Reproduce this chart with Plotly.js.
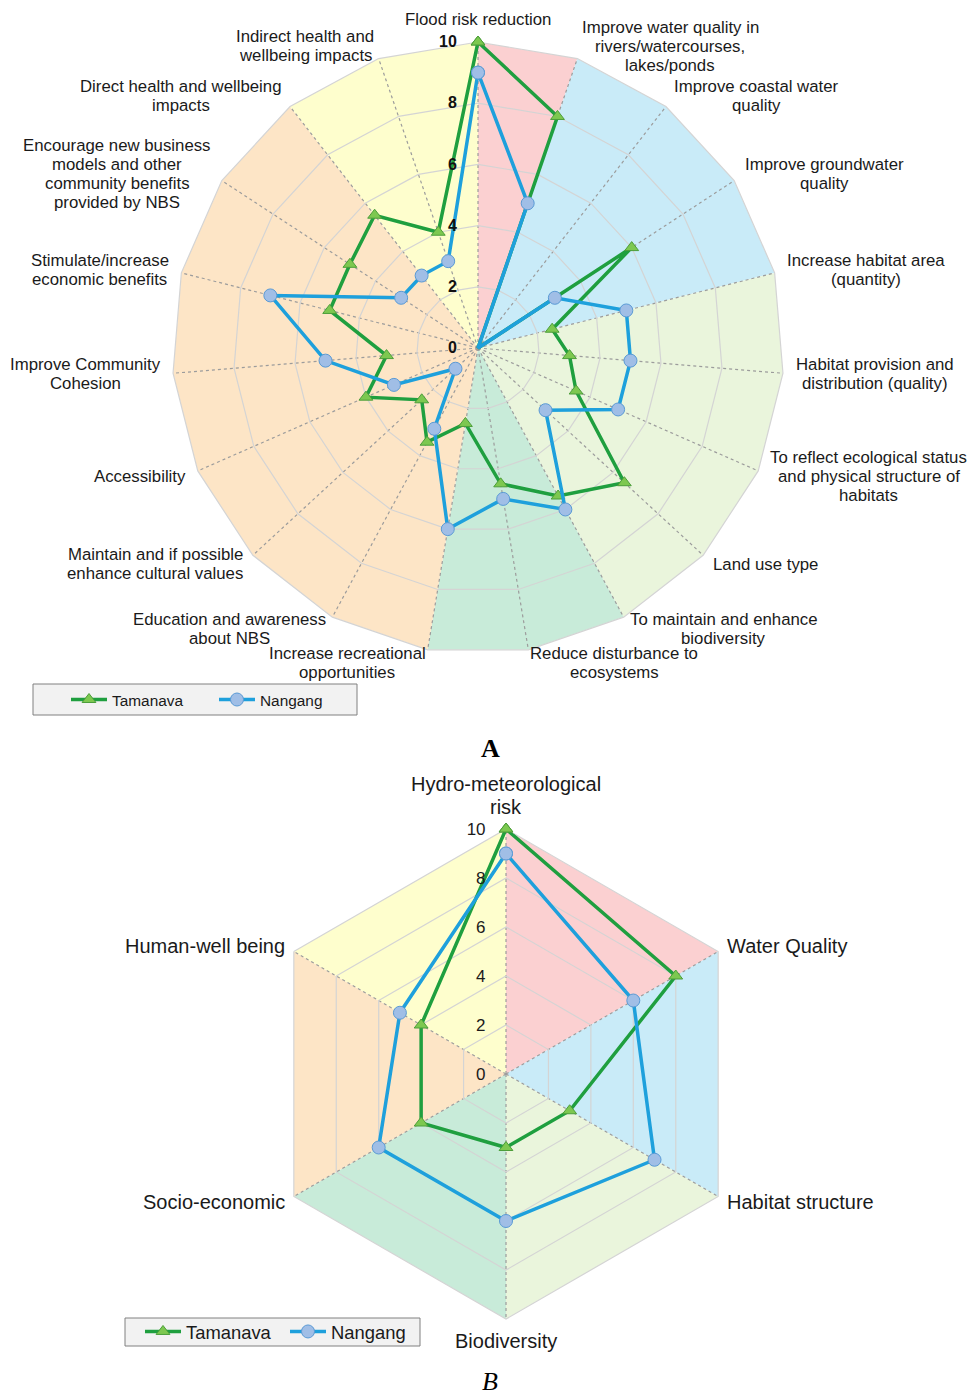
<!DOCTYPE html>
<html>
<head>
<meta charset="utf-8">
<script src="https://cdn.plot.ly/plotly-3.0.1.min.js"></script>
<style>html,body{margin:0;padding:0;background:#fff;}#chart{width:973px;height:1396px;}</style>
</head>
<body>
<div id="chart"></div>
<script>
// ---------------- DATA ----------------
const categoriesA = [
  "Flood risk reduction",
  "Improve water quality in<br>rivers/watercourses,<br>lakes/ponds",
  "Improve coastal water<br>quality",
  "Improve groundwater<br>quality",
  "Increase habitat area<br>(quantity)",
  "Habitat provision and<br>distribution (quality)",
  "To reflect ecological status<br>and physical structure of<br>habitats",
  "Land use type",
  "To maintain and enhance<br>biodiversity",
  "Reduce disturbance to<br>ecosystems",
  "Increase recreational<br>opportunities",
  "Education and awareness<br>about NBS",
  "Maintain and if possible<br>enhance cultural values",
  "Accessibility",
  "Improve Community<br>Cohesion",
  "Stimulate/increase<br>economic benefits",
  "Encourage new business<br>models and other<br>community benefits<br>provided by NBS",
  "Direct health and wellbeing<br>impacts",
  "Indirect health and<br>wellbeing impacts"
];
const tamanavaA = [10, 8, 0, 6, 2.5, 3, 3.5, 6.5, 5.5, 4.5, 2.5, 3.5, 2.5, 4, 3, 5, 5, 5.5, 4];
const nangangA  = [9, 5, 0, 3, 5, 5, 5, 3, 6, 5, 6, 3, 1, 3, 5, 7, 3, 3, 3];
// theme group of the sector that starts at each category (clockwise)
const sectorGroupA = ["flood", "water", "water", "water", "habitat", "habitat", "habitat", "habitat",
  "biodiv", "biodiv", "social", "social", "social", "social", "social", "social", "social", "health", "health"];

const categoriesB = ["Hydro-meteorological<br>risk", "Water Quality", "Habitat structure",
  "Biodiversity", "Socio-economic", "Human-well being"];
const tamanavaB = [10, 8, 3, 3, 4, 4];
const nangangB  = [9, 6, 7, 6, 6, 5];
const sectorGroupB = ["flood", "water", "habitat", "biodiv", "social", "health"];

const radialTicks = [0, 2, 4, 6, 8, 10];
const seriesNames = ["Tamanava", "Nangang"];

// ---------------- STYLE ----------------
const RMAX = 10;
const W = 973, H = 1396;
const groupColors = {
  flood: "#fbd0d1", water: "#c9ebf8", habitat: "#eaf5dc",
  biodiv: "#c8ebd9", social: "#fde5c6", health: "#fefecd"
};
const FONT = "Liberation Sans, Arial, sans-serif";
const TEXT = "#1a1a1a";
const green = {line: "#1f9f3f", fill: "#7dc850", edge: "#4c9e3a"};
const blue = {line: "#1ea0dc", fill: "#a0bee6", edge: "#5a9ad5"};
const geomA = {cx: 478, cy: 348, R: 306};
const geomB = {cx: 506, cy: 1074, R: 245};
const labelStyleA = {size: 16.8, lineH: 19, off: 13};
const labelStyleB = {size: 20, lineH: 23, off: 10.5};

function closeLoop(a) { return a.concat([a[0]]); }

function sectorTraces(cats, groups, subplot) {
  const n = cats.length, out = [];
  let s = 0;
  while (s < n) {
    let e = s;
    while (e + 1 < n && groups[e + 1] === groups[s]) e++;
    const theta = [cats[s]], r = [0];
    for (let k = s; k <= e + 1; k++) { theta.push(cats[k % n]); r.push(RMAX); }
    theta.push(cats[s]); r.push(0);
    out.push({
      type: "scatterpolar", subplot: subplot, mode: "lines", theta: theta, r: r,
      fill: "toself", fillcolor: groupColors[groups[s]], line: {width: 0, color: groupColors[groups[s]]},
      hoverinfo: "skip", showlegend: false
    });
    s = e + 1;
  }
  return out;
}

// invisible anchor so that the grid-only subplot is drawn (grid sits above the coloured sectors)
function gridAnchor(cats, subplot) {
  return {type: "scatterpolar", subplot: subplot, mode: "markers", theta: [cats[0]], r: [0],
    marker: {size: 1, opacity: 0}, hoverinfo: "skip", showlegend: false};
}

function seriesTrace(cats, vals, name, sty, sym, msize, lw, subplot, legend) {
  return {
    type: "scatterpolar", subplot: subplot, legend: legend, name: name,
    mode: "lines+markers", theta: closeLoop(cats), r: closeLoop(vals),
    line: {color: sty.line, width: lw},
    marker: {symbol: sym, size: msize, color: sty.fill, line: {color: sty.edge, width: 1}},
    hoverinfo: "skip"
  };
}

const traces = []
  .concat(sectorTraces(categoriesA, sectorGroupA, "polar"))
  .concat([gridAnchor(categoriesA, "polar2")])
  .concat(sectorTraces(categoriesB, sectorGroupB, "polar4"))
  .concat([gridAnchor(categoriesB, "polar5")])
  .concat([
    seriesTrace(categoriesA, tamanavaA, seriesNames[0], green, "triangle-up", 12, 3.5, "polar3", "legend"),
    seriesTrace(categoriesA, nangangA, seriesNames[1], blue, "circle", 13, 3.5, "polar3", "legend"),
    seriesTrace(categoriesB, tamanavaB, seriesNames[0], green, "triangle-up", 12, 3.5, "polar6", "legend2"),
    seriesTrace(categoriesB, nangangB, seriesNames[1], blue, "circle", 13, 3.5, "polar6", "legend2")
  ]);

function domainFor(g) {
  return {x: [(g.cx - g.R) / W, (g.cx + g.R) / W], y: [1 - (g.cy + g.R) / H, 1 - (g.cy - g.R) / H]};
}

// category labels placed outside each polygon vertex, lines centred (as in the original)
const measureCtx = document.createElement("canvas").getContext("2d");
function categoryLabels(cats, g, sty) {
  const n = cats.length, out = [];
  measureCtx.font = sty.size + "px 'Liberation Sans'";
  cats.forEach((c, i) => {
    const a = (90 - i * 360 / n) * Math.PI / 180;
    const cs = Math.cos(a), sn = Math.sin(a);
    const px = g.cx + (g.R + sty.off) * cs, py = g.cy - (g.R + sty.off) * sn;
    const lines = c.split("<br>");
    const bw = Math.max.apply(null, lines.map(l => measureCtx.measureText(l).width));
    const bh = lines.length * sty.lineH;
    let left, midY;
    if (Math.abs(cs) < 0.05) {
      left = px - bw / 2;
      midY = sn > 0 ? py - bh / 2 : py + bh / 2;
    } else {
      left = cs > 0 ? px : px - bw;
      midY = py;
    }
    lines.forEach((l, j) => {
      const y = midY + (j - (lines.length - 1) / 2) * sty.lineH;
      out.push({text: l, xref: "paper", yref: "paper", x: (left + bw / 2) / W, y: 1 - y / H,
        xanchor: "center", yanchor: "middle", showarrow: false, borderpad: 0,
        font: {family: FONT, size: sty.size, color: TEXT}});
    });
  });
  return out;
}

function catAxis(cats) {
  return {type: "category", categoryorder: "array", categoryarray: cats,
    direction: "clockwise", rotation: 90, showgrid: false, showline: false,
    showticklabels: false, ticks: ""};
}
function plainPolar(cats, dom) {
  return {domain: dom, bgcolor: "rgba(0,0,0,0)", gridshape: "linear",
    angularaxis: catAxis(cats),
    radialaxis: {range: [0, RMAX], visible: false, showgrid: false}};
}
// data subplot: carries the radial tick labels so they sit on top of the lines
function dataPolar(cats, dom, tickFont, tlen) {
  return {domain: dom, bgcolor: "rgba(0,0,0,0)", gridshape: "linear",
    angularaxis: catAxis(cats),
    radialaxis: {range: [0, RMAX], tickvals: radialTicks, angle: 90, side: "counterclockwise",
      tickangle: 90, showline: false, showgrid: false, ticks: "outside", ticklen: tlen,
      tickcolor: "rgba(0,0,0,0)", tickfont: tickFont}};
}
function gridPolar(cats, dom) {
  return {
    domain: dom, bgcolor: "rgba(0,0,0,0)", gridshape: "linear",
    angularaxis: {
      type: "category", categoryorder: "array", categoryarray: cats,
      direction: "clockwise", rotation: 90,
      showgrid: true, gridcolor: "#9c9c9c", griddash: "dot", gridwidth: 1.2,
      showline: true, linecolor: "#d4d4d4", linewidth: 1.2,
      ticks: "", showticklabels: false
    },
    radialaxis: {
      range: [0, RMAX], tickvals: radialTicks, angle: 90,
      showline: false, ticks: "", showticklabels: false,
      showgrid: true, gridcolor: "#d4d4d4", gridwidth: 1.2
    }
  };
}

const domA = domainFor(geomA);
const domB = domainFor(geomB);

const layout = {
  width: W, height: H, margin: {l: 0, r: 0, t: 0, b: 0},
  paper_bgcolor: "#fff", plot_bgcolor: "#fff",
  font: {family: FONT, color: TEXT},
  polar: plainPolar(categoriesA, domA),
  polar2: gridPolar(categoriesA, domA),
  polar3: dataPolar(categoriesA, domA, {family: FONT, size: 16, weight: "bold", color: "#111"}, 15),
  polar4: plainPolar(categoriesB, domB),
  polar5: gridPolar(categoriesB, domB),
  polar6: dataPolar(categoriesB, domB, {family: FONT, size: 17, color: TEXT}, 14),
  showlegend: true,
  legend: {orientation: "h", x: 66 / W, y: 1 - 683 / H, xanchor: "left", yanchor: "top",
    bgcolor: "rgba(0,0,0,0)", borderwidth: 0, font: {family: FONT, size: 15.4, color: TEXT},
    itemwidth: 36, entrywidth: 97, traceorder: "normal"},
  legend2: {orientation: "h", x: 140 / W, y: 1 - 1313 / H, xanchor: "left", yanchor: "top",
    bgcolor: "rgba(0,0,0,0)", borderwidth: 0, font: {family: FONT, size: 18.4, color: TEXT},
    itemwidth: 36, entrywidth: 94, traceorder: "normal"},
  shapes: [
    {type: "rect", xref: "paper", yref: "paper", x0: 33 / W, x1: 357 / W, y0: 1 - 715 / H, y1: 1 - 684 / H,
      fillcolor: "#f2f2f2", line: {color: "#808080", width: 1}, layer: "below"},
    {type: "rect", xref: "paper", yref: "paper", x0: 125 / W, x1: 420 / W, y0: 1 - 1346 / H, y1: 1 - 1318 / H,
      fillcolor: "#f2f2f2", line: {color: "#808080", width: 1}, layer: "below"}
  ],
  annotations: categoryLabels(categoriesA, geomA, labelStyleA)
    .concat(categoryLabels(categoriesB, geomB, labelStyleB))
    .concat([
      {text: "<b>A</b>", xref: "paper", yref: "paper", x: 490 / W, y: 1 - 748 / H, showarrow: false,
        xanchor: "center", yanchor: "middle",
        font: {family: "Liberation Serif, DejaVu Serif, serif", size: 26, color: "#000"}},
      {text: "<i>B</i>", xref: "paper", yref: "paper", x: 490 / W, y: 1 - 1381 / H, showarrow: false,
        xanchor: "center", yanchor: "middle",
        font: {family: "Liberation Serif, DejaVu Serif, serif", size: 26, color: "#000"}}
    ])
};

Plotly.newPlot("chart", traces, layout, {staticPlot: true, displayModeBar: false});
</script>
</body>
</html>
